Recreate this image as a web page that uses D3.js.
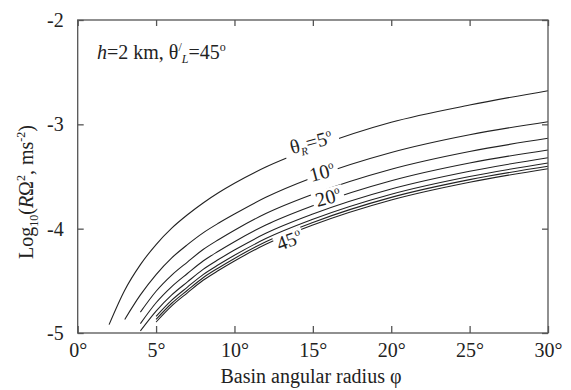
<!DOCTYPE html>
<html><head><meta charset="utf-8">
<script src="https://cdn.jsdelivr.net/npm/d3@7"></script>
<style>
body{margin:0;background:#fff;}
text{font-family:"Liberation Serif","Times New Roman",serif;fill:#222;}
</style></head>
<body><svg id="c" width="571" height="390"></svg>
<script>
const xTicks = [0,5,10,15,20,25,30];
const yTicks = [-5,-4,-3,-2];
const thetaR = [5,10,15,20,25,30,35,45];
const phi1 = [2,3,4,5,6,7,8,9,10,12,15,20,25,30];
const phi2 = [3,4,5,6,7,8,9,10,12,15,20,25,30];
const phi3 = [4,5,6,7,8,9,10,12,15,20,25,30];
const phi6 = [5,6,7,8,9,10,12,15,20,25,30];
const v5  = [-4.92,-4.59,-4.345,-4.152,-3.995,-3.867,-3.754,-3.654,-3.565,-3.41,-3.225,-2.98,-2.815,-2.678];
const v10 = [-4.87,-4.635,-4.44,-4.28,-4.153,-4.04,-3.946,-3.86,-3.70,-3.51,-3.27,-3.10,-2.975];
const v15 = [-4.80,-4.60,-4.445,-4.32,-4.20,-4.104,-4.015,-3.855,-3.67,-3.43,-3.26,-3.134];
const v20 = [-4.91,-4.71,-4.555,-4.43,-4.31,-4.214,-4.125,-3.965,-3.78,-3.54,-3.37,-3.246];
const v25 = [-4.98,-4.79,-4.635,-4.51,-4.39,-4.294,-4.205,-4.045,-3.86,-3.62,-3.45,-3.32];
const v30 = [-4.84,-4.685,-4.56,-4.44,-4.344,-4.255,-4.095,-3.91,-3.67,-3.50,-3.371];
const v35 = [-4.87,-4.715,-4.59,-4.47,-4.374,-4.285,-4.125,-3.94,-3.70,-3.53,-3.402];
const v45 = [-4.895,-4.74,-4.615,-4.495,-4.399,-4.31,-4.15,-3.965,-3.725,-3.555,-3.425];

const series = [
  {t:5, phi:phi1, v:v5},{t:10, phi:phi2, v:v10},{t:15, phi:phi3, v:v15},{t:20, phi:phi3, v:v20},
  {t:25, phi:phi3, v:v25},{t:30, phi:phi6, v:v30},{t:35, phi:phi6, v:v35},{t:45, phi:phi6, v:v45}
];

const svg = d3.select("#c");
const L=77.7, R=548, T=20, B=333;
const x = d3.scaleLinear().domain([0,30]).range([L,R]);
const y = d3.scaleLinear().domain([-5,-2]).range([B,T]);

const line = d3.line().x(d=>x(d[0])).y(d=>y(d[1])).curve(d3.curveMonotoneX);
series.forEach(s=>{
  svg.append("path").datum(s.phi.map((p,i)=>[p,s.v[i]]))
    .attr("d",line).attr("fill","none").attr("stroke","#222").attr("stroke-width",1.1);
});

// frame
svg.append("rect").attr("x",L).attr("y",T).attr("width",R-L).attr("height",B-T)
  .attr("fill","none").attr("stroke","#555").attr("stroke-width",1.3);

// axes
const fs = 20;
const gx = svg.append("g").attr("transform",`translate(0,${B})`)
  .call(d3.axisBottom(x).tickValues(xTicks).tickSize(-7).tickFormat(d=>d+"°").tickPadding(10));
const gxt = svg.append("g").attr("transform",`translate(0,${T})`)
  .call(d3.axisTop(x).tickValues(xTicks).tickSize(-6).tickFormat(""));
const gy = svg.append("g").attr("transform",`translate(${L},0)`)
  .call(d3.axisLeft(y).tickValues(yTicks).tickSize(-6).tickFormat(d=>"-"+Math.abs(d)).tickPadding(14));
const gyr = svg.append("g").attr("transform",`translate(${R},0)`)
  .call(d3.axisRight(y).tickValues(yTicks).tickSize(-6).tickFormat(""));
[gx,gxt,gy,gyr].forEach(g=>{
  g.attr("font-family",null);
  g.select(".domain").remove();
  g.selectAll(".tick line").attr("stroke","#555").attr("stroke-width",1.3);
  g.selectAll("text").style("font-size",fs+"px").attr("fill","#222")
   .style("font-family","'Liberation Serif','Times New Roman',serif");
});
gx.selectAll("text").attr("dy","0.71em");

// x title
svg.append("text").attr("x",311).attr("y",383).attr("text-anchor","middle")
  .style("font-size","20px").text("Basin angular radius φ");

// y title
const yt = svg.append("text").attr("transform","translate(33,192) rotate(-90)")
  .attr("text-anchor","middle").style("font-size","20px");
yt.append("tspan").text("Log");
yt.append("tspan").attr("dy",5).style("font-size","12px").text("10");
yt.append("tspan").attr("dy",-5).text("(");
yt.append("tspan").style("font-style","italic").text("R");
yt.append("tspan").text("Ω");
yt.append("tspan").attr("dy",-8).style("font-size","12px").text("2");
yt.append("tspan").attr("dy",8).text(", ms");
yt.append("tspan").attr("dy",-8).style("font-size","12px").text("-2");
yt.append("tspan").attr("dy",8).text(")");

// annotation
const an = svg.append("text").attr("x",97).attr("y",59).style("font-size","20px");
an.append("tspan").style("font-style","italic").text("h");
an.append("tspan").text("=2 km, θ");
an.append("tspan").attr("dy",-8).style("font-size","12px").text("/");
an.append("tspan").attr("dy",12).style("font-size","12px").style("font-style","italic").text("L");
an.append("tspan").attr("dy",-4).text("=45");
an.append("tspan").attr("dy",-8).style("font-size","12px").text("o");

// curve labels
function label(cx,cy,rot,build,w,h){
  const g = svg.append("g").attr("transform",`translate(${cx},${cy}) rotate(${rot})`);
  g.append("rect").attr("x",-w/2).attr("y",-h/2).attr("width",w).attr("height",h).attr("fill","#fff");
  const t = g.append("text").attr("text-anchor","middle").attr("y",7).style("font-size","20px");
  build(t);
}
label(311,142,-15,t=>{
  t.append("tspan").text("θ");
  t.append("tspan").attr("dy",4).style("font-size","11px").style("font-style","italic").text("R");
  t.append("tspan").attr("dy",-4).text("=5");
  t.append("tspan").attr("dy",-8).style("font-size","11px").text("o");
},56,22);
label(322,172,-15,t=>{
  t.append("tspan").text("10");
  t.append("tspan").attr("dy",-8).style("font-size","11px").text("o");
},32,20);
label(328,197,-15,t=>{
  t.append("tspan").text("20");
  t.append("tspan").attr("dy",-8).style("font-size","11px").text("o");
},32,18);
label(289,240,-20,t=>{
  t.append("tspan").text("45");
  t.append("tspan").attr("dy",-8).style("font-size","11px").text("o");
},30,18);
</script></body></html>
